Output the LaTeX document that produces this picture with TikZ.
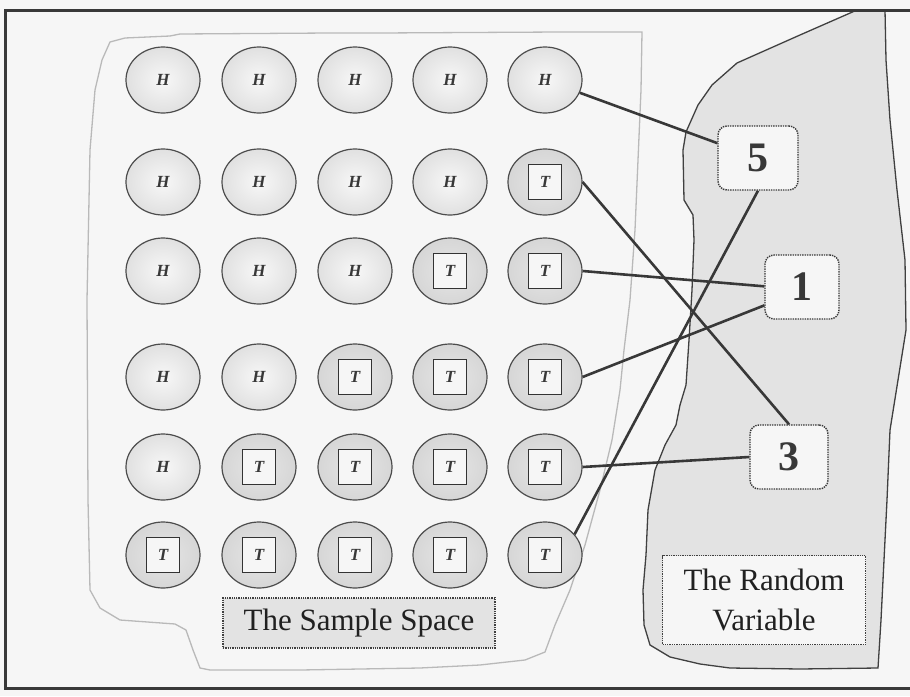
\documentclass[tikz,border=0pt]{standalone}
\usepackage{fontspec}
\setmainfont{Liberation Serif}
\usetikzlibrary{shapes.geometric}
\definecolor{ink}{gray}{0.22}
\definecolor{paper}{gray}{0.965}
\begin{document}
\begin{tikzpicture}[x=1pt,y=-1pt,
  coin/.style={ellipse, draw=gray!60!black, line width=1.2pt, minimum width=74pt, minimum height=66pt, inner sep=0pt},
  hcoin/.style={coin, inner color=gray!6, outer color=gray!24, font=\fontsize{17}{17}\selectfont\itshape\bfseries, text=ink},
  tcoin/.style={coin, inner color=gray!20, outer color=gray!32},
  tbox/.style={draw=gray!40!black, line width=1pt, fill=paper, minimum width=33pt, minimum height=35pt, inner sep=0pt, font=\fontsize{17}{17}\selectfont\itshape\bfseries, text=ink},
  numbox/.style={draw=gray!45!black, densely dotted, line width=1.4pt, rounded corners=9pt, fill=paper, minimum width=74pt, minimum height=64pt, inner sep=0pt, font=\fontsize{42}{42}\selectfont\bfseries, text=ink},
  conn/.style={draw=ink, line width=2.6pt},
  region/.style={draw=gray!55, line width=1.3pt},
  rvregion/.style={draw=gray!50!black, line width=1.3pt, fill=gray!22},
  caption/.style={draw=gray!50!black, densely dotted, line width=1.3pt, inner sep=0pt, font=\fontsize{31}{40}\selectfont, text=gray!25!black, align=center}
]
\useasboundingbox (0,0) rectangle (910,696);
\fill[paper] (0,0) rectangle (910,696);
% random variable region
\draw[rvregion] (857,10) -- (885,10) -- (886,60) -- (890,120) -- (897,190) -- (905,260) -- (906,330) -- (898,380) -- (890,430) -- (887,500) -- (884,560) -- (881,620) -- (878,668) -- (800,669) -- (730,668) -- (700,664) -- (670,657) -- (650,645) -- (644,625) -- (643,590) -- (646,555) -- (648,510) -- (655,470) -- (665,445) -- (676,425) -- (680,405) -- (686,385) -- (689,340) -- (692,290) -- (694,240) -- (693,215) -- (684,200) -- (683,150) -- (686,132) -- (698,105) -- (712,85) -- (737,63) -- (800,35) -- cycle;
% sample space region
\draw[region] (110,42) -- (125,38) -- (170,36) -- (180,34) -- (330,33) -- (380,33) -- (560,32) -- (642,32) -- (641,90) -- (638,160) -- (635,230) -- (630,300) -- (624,350) -- (620,390) -- (612,440) -- (600,490) -- (585,545) -- (570,590) -- (555,625) -- (545,652) -- (525,660) -- (480,665) -- (420,668) -- (300,670) -- (210,670) -- (200,668) -- (193,650) -- (186,630) -- (175,624) -- (120,620) -- (100,608) -- (90,590) -- (88,500) -- (87,300) -- (90,150) -- (95,90) -- (102,60) -- cycle;
% frame
\begin{scope}
\clip (0,0) rectangle (910,696);
\draw[draw=gray!45!black, line width=3pt] (5,10) rectangle (940,688);
\end{scope}
% coins
\foreach \r/\y in {1/80,2/182,3/271,4/377,5/467,6/555}{
  \foreach \c/\x in {1/163,2/259,3/355,4/450,5/545}{
    \pgfmathtruncatemacro{\s}{\r+\c}
    \ifnum\s>6
      \node[tcoin] (c-\r-\c) at (\x,\y) {};
      \node[tbox] (b-\r-\c) at (\x,\y) {T};
    \else
      \node[hcoin] (c-\r-\c) at (\x,\y) {H};
    \fi
  }
}
% value boxes
\node[numbox, minimum width=80pt] (n5) at (758,158) {5};
\node[numbox] (n1) at (802,287) {1};
\node[numbox, minimum width=78pt] (n3) at (789,457) {3};
% connectors
\draw[conn] (c-1-5) -- (n5);
\draw[conn] (c-2-5.east) -- (n3.north);
\draw[conn] (c-3-5.east) -- (n1.179);
\draw[conn] (c-4-5.east) -- (n1.206);
\draw[conn] (c-5-5.east) -- (n3.west);
\draw[conn] (c-6-5.35) -- (n5.south);
% captions
\node[caption, fill=gray!22, minimum width=272pt, minimum height=50pt] (ss) at (359,623) {The Sample Space};
\node[caption, fill=paper, minimum width=203pt, minimum height=89pt] (rv) at (764,600) {The Random\\Variable};
\end{tikzpicture}
\end{document}
